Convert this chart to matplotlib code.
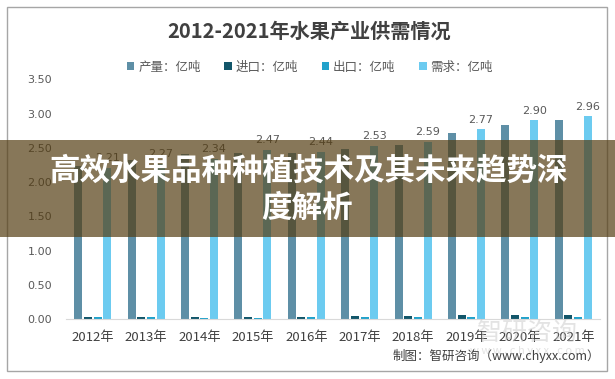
import matplotlib
matplotlib.use("Agg")
import matplotlib.pyplot as plt
import numpy as np
from matplotlib.patches import Rectangle

plt.rcParams['font.family'] = ['Noto Sans CJK SC', 'DejaVu Sans']

years = ["2012年", "2013年", "2014年", "2015年", "2016年", "2017年", "2018年", "2019年", "2020年", "2021年"]
production = [2.24, 2.32, 2.41, 2.42, 2.42, 2.49, 2.54, 2.72, 2.84, 2.91]
imports = [0.03, 0.03, 0.03, 0.03, 0.03, 0.045, 0.05, 0.06, 0.06, 0.06]
exports = [0.03, 0.03, 0.02, 0.02, 0.03, 0.03, 0.03, 0.03, 0.03, 0.03]
demand = [2.21, 2.27, 2.34, 2.47, 2.44, 2.53, 2.59, 2.77, 2.90, 2.96]
series_names = ["产量：亿吨", "进口：亿吨", "出口：亿吨", "需求：亿吨"]
colors = ["#5E8FA6", "#12566A", "#22A2CB", "#6CCBF0"]
yticks = [0.0, 0.5, 1.0, 1.5, 2.0, 2.5, 3.0, 3.5]

W, H = 615, 379
fig = plt.figure(figsize=(W / 100, H / 100), dpi=100)
fig.patch.set_facecolor("white")

# outer border
fig.patches.append(Rectangle((7 / W, 1 - 371 / H), 600 / W, 364 / H, transform=fig.transFigure,
                             fill=False, edgecolor="#A6A6A6", linewidth=1.0, zorder=0))

ax = fig.add_axes([66 / W, 1 - 319.4 / H, 534 / W, 240.1 / H])
x = np.arange(len(years))
step = 0.18
width = 0.15
data = [production, imports, exports, demand]
for i, (vals, c, name) in enumerate(zip(data, colors, series_names)):
    ax.bar(x + (i - 1.5) * step, vals, width=width, color=c, label=name, zorder=2)

for xi, v in zip(x, demand):
    ax.text(xi + 1.5 * step, v + 0.07, f"{v:.2f}", ha="center", va="bottom",
            fontsize=8, color="#595959", family=["DejaVu Sans"])

ax.set_xlim(-0.5, len(years) - 0.5)
ax.set_ylim(0, 3.5)
ax.set_yticks(yticks)
ax.set_yticklabels([f"{t:.2f}" for t in yticks], fontsize=8, color="#595959", family=["DejaVu Sans"])
ax.set_xticks(x)
ax.set_xticklabels(years, fontsize=9.5, color="#404040")
ax.tick_params(axis="both", length=0)
ax.tick_params(axis="x", pad=8)
ax.tick_params(axis="y", pad=10)
for s in ["top", "right", "left"]:
    ax.spines[s].set_visible(False)
ax.spines["bottom"].set_color("#D9D9D9")
ax.set_facecolor("none")

fig.text(309 / W, 1 - 31 / H, "2012-2021年水果产业供需情况", ha="center", va="center",
         fontsize=14.5, fontweight="bold", color="#404040")

leg = fig.legend(loc="center", bbox_to_anchor=(310 / W, 1 - 67 / H), ncol=4, frameon=False,
                 fontsize=9, handlelength=0.6, handleheight=0.6, handletextpad=0.3,
                 columnspacing=1.9, labelcolor="#595959")

# watermark
fig.text(527 / W, 1 - 333 / H, "智研咨询", ha="center", va="center", fontsize=18,
         color="#C8C8C8", alpha=0.5, zorder=1)
fig.text(527 / W, 1 - 351 / H, "w w w . c h y x x . c o m", ha="center", va="center", fontsize=8,
         color="#C8C8C8", alpha=0.5, zorder=1)

fig.text(600 / W, 1 - 356 / H, "制图：智研咨询（www.chyxx.com）", ha="right", va="center",
         fontsize=9, color="#404040")

# banner overlay
fig.patches.append(Rectangle((0, 1 - 237 / H), 1, 97 / H, transform=fig.transFigure,
                             facecolor=(0.33, 0.24, 0.07), alpha=0.7, edgecolor="none", zorder=10))
fig.text(309 / W, 1 - 171 / H, "高效水果品种种植技术及其未来趋势深", ha="center", va="center",
         fontsize=22, fontweight="bold", color="white", zorder=11)
fig.text(307 / W, 1 - 208 / H, "度解析", ha="center", va="center",
         fontsize=22, fontweight="bold", color="white", zorder=11)

fig.savefig("out.png", dpi=100)
